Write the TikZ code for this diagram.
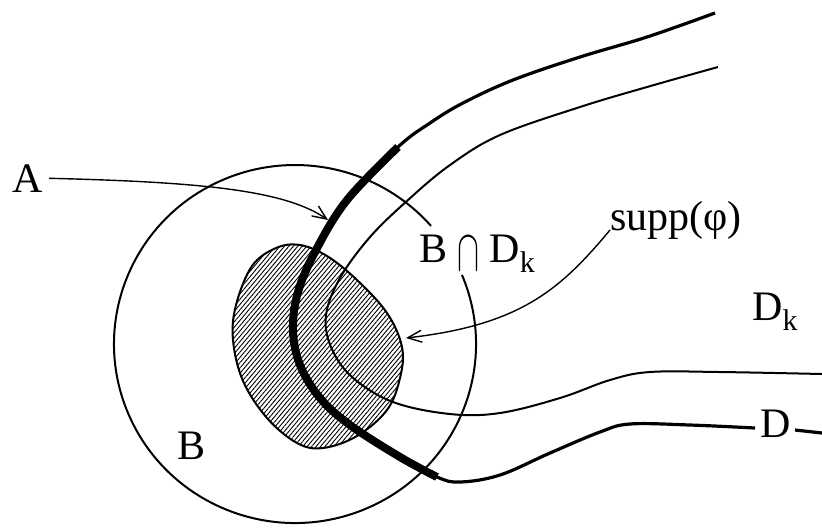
\documentclass[tikz,border=0pt]{standalone}
\usepackage{fontspec}
\setmainfont{Liberation Serif}
\usetikzlibrary{arrows.meta,patterns.meta}

\begin{document}
\begin{tikzpicture}[x=0.5pt, y=-0.5pt, font=\fontsize{21}{25}\selectfont,
    lbl/.style={anchor=base west, inner sep=0pt},
    pointer/.style={line width=0.7pt, -{Straight Barb[length=7pt,width=6pt]}},
    thinline/.style={line width=1pt},
    bdry/.style={line width=1.6pt},
    bdryheavy/.style={line width=4pt, line cap=butt}]
  \useasboundingbox (0,0) rectangle (822,527);

  % the ball B, open where the label sits
  \coordinate (ctr) at (295,344);
  \draw[thinline] (ctr) ++(-22.7:181 and 179) arc[start angle=-22.7, end angle=318.7, x radius=181, y radius=179];

  % supp(phi), hatched
  \filldraw[line width=1pt, pattern={Lines[angle=50,distance=1.7pt,line width=0.45pt]}]
    plot[smooth cycle, tension=0.6] coordinates {(300,245) (327,256) (357,280) (387,313) (402,347)
      (400,378) (387,410) (357,436) (323,448) (297,443) (267,418) (243,381) (233,340)
      (236,305) (252,266) (276,248)};

  % boundary of D_k
  \draw[thinline] plot[smooth, tension=0.6] coordinates {(718,67) (647,87) (580,107) (500,135)
    (450,165) (408,200) (370,237) (340,278) (326,315) (331,347) (352,377) (393,402)
    (450,414) (500,413) (560,398) (610,380) (650,372) (720,372) (822,374)};

  % boundary of D, heavy where it meets B
  \draw[bdry] plot[smooth, tension=0.6] coordinates {(715,13) (647,37) (580,57) (513,80)
    (463,103) (430,123) (398,147) (347,200) (316,250) (298,292) (293,330) (300,365)
    (320,398) (350,425) (400,457) (437,477) (460,482) (500,475) (550,453) (600,432)
    (630,424) (690,425) (755,428)};
  \draw[bdryheavy] plot[smooth, tension=0.6] coordinates {(398,147) (347,200) (316,250)
    (298,292) (293,330) (300,365) (320,398) (350,425) (400,457) (437,477)};
  \draw[bdry] (795,430) -- (822,433);

  % labels
  \node[lbl] (labA) at (12,192) {A};
  \node[lbl] (labB) at (177,459) {B};
  \node[lbl] (labBD) at (419,262) {B\hspace{5pt}\raisebox{-4pt}{\resizebox{11pt}{16.5pt}{$\cap$}}\hspace{5pt}D\raisebox{-5pt}{\fontsize{15}{15}\selectfont k}};
  \node[lbl] (labSupp) at (610,230) {supp(φ)};
  \node[lbl] (labDk) at (752,320) {D\raisebox{-5pt}{\fontsize{15}{15}\selectfont k}};
  \node[lbl] (labD) at (760,437) {D};

  % pointers
  \coordinate (tipA) at (328,220);
  \coordinate (tipS) at (406,338);
  \draw[pointer, shorten <=3pt] (labA.east) .. controls (200,182) and (285,190) .. (tipA);
  \draw[pointer] (labSupp.base west) .. controls (560,290) and (520,325) .. (tipS);
\end{tikzpicture}
\end{document}
